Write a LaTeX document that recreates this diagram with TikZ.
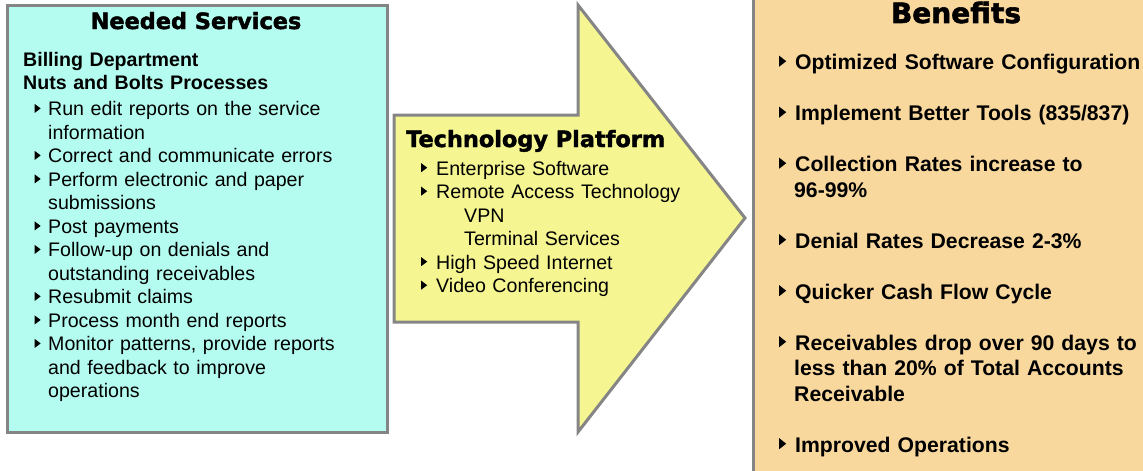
\documentclass[tikz,border=0pt]{standalone}
\usepackage{fontspec}
\setmainfont{Liberation Sans}
\newfontfamily\headfont{DejaVu Sans}[BoldFont={DejaVu Sans Bold},BoldFeatures={FakeBold=2}]
\usetikzlibrary{positioning}
\definecolor{cyanS}{HTML}{B4FCEF}
\definecolor{yellowS}{HTML}{F5F591}
\definecolor{tanS}{HTML}{F9D89E}
\definecolor{greyB}{HTML}{858585}

% small black triangle used as list bullet
\newcommand{\tri}[2]{\raisebox{3pt}{\tikz\fill (0pt,0pt) -- (#1,#2/2) -- (0pt,#2) -- cycle;}}
\newenvironment{blist}[3]{%
  \begin{list}{#3}{%
    \setlength{\leftmargin}{#1}\setlength{\labelsep}{#2}%
    \setlength{\labelwidth}{6pt}\setlength{\itemindent}{0pt}%
    \setlength{\topsep}{0pt}\setlength{\partopsep}{0pt}%
    \setlength{\parsep}{0pt}\setlength{\itemsep}{0pt}}}%
  {\end{list}}

\begin{document}
\begin{tikzpicture}[
  x=1pt, y=-1pt,
  panel/.style={draw=greyB, fill=#1, line width=3pt},
  head/.style={font=\headfont\bfseries\fontsize{#1}{#1}\selectfont, inner sep=0pt},
  body/.style={font=\fontsize{19.6pt}{23.5pt}\selectfont, align=left,
    inner sep=0pt, anchor=north west, text width=#1},
  bene/.style={font=\bfseries\fontsize{21.2pt}{25.5pt}\selectfont, align=left,
    inner sep=0pt, anchor=north west, text width=#1}
]
\useasboundingbox (0,0) rectangle (1143,471);

%% ═══ NEEDED SERVICES ═══
\draw[panel=cyanS] (7,5) rectangle (387,432);
\node[head=22.4pt, anchor=base] (needhd) at (196,29) {Needed Services};

\node[body=340pt] (needs) at (23,52)
  {\textbf{Billing Department}\par
   \textbf{Nuts and Bolts Processes}\par\vspace{2.5pt}
   \begin{blist}{25pt}{7.5pt}{\tri{6pt}{9pt}}
   \item Run edit reports on the service information
   \item Correct and communicate errors
   \item Perform electronic and paper submissions
   \item Post payments
   \item Follow-up on denials and outstanding receivables
   \item Resubmit claims
   \item Process month end reports
   \item Monitor patterns, provide reports and feedback to improve operations
   \end{blist}};

%% ═══ TECHNOLOGY PLATFORM ═══
\draw[panel=yellowS] (394,115) -- (578,115) -- (578,5) -- (745,218)
  -- (578,432) -- (578,322) -- (394,322) -- cycle;
\node[head=22.4pt, anchor=base west] (techhd) at (406,147) {Technology Platform};

\node[body=300pt] (tech) at (421,151.5)
  {\begin{blist}{15pt}{9pt}{\tri{6pt}{9pt}}
   \item Enterprise Software
   \item Remote Access Technology\\
     \hspace*{28pt}VPN\\
     \hspace*{28pt}Terminal Services
   \item High Speed Internet
   \item Video Conferencing
   \end{blist}};

%% ═══ BENEFITS ═══
\draw[panel=tanS] (753.5,-10) rectangle (1160,490);
\node[head=28pt, anchor=base] (benehd) at (956,23) {Benefits};

\node[bene=364pt] (bene) at (779,44)
  {\begin{blist}{15pt}{9pt}{\tri{7pt}{11pt}}
   \setlength{\itemsep}{25.5pt}
   \item Optimized Software Configuration
   \item Implement Better Tools (835/837)
   \item Collection Rates increase to 96-99\%
   \item Denial Rates Decrease 2-3\%
   \item Quicker Cash Flow Cycle
   \item Receivables drop over 90 days to less than 20\% of Total Accounts Receivable
   \item Improved Operations
   \end{blist}};

\end{tikzpicture}
\end{document}
